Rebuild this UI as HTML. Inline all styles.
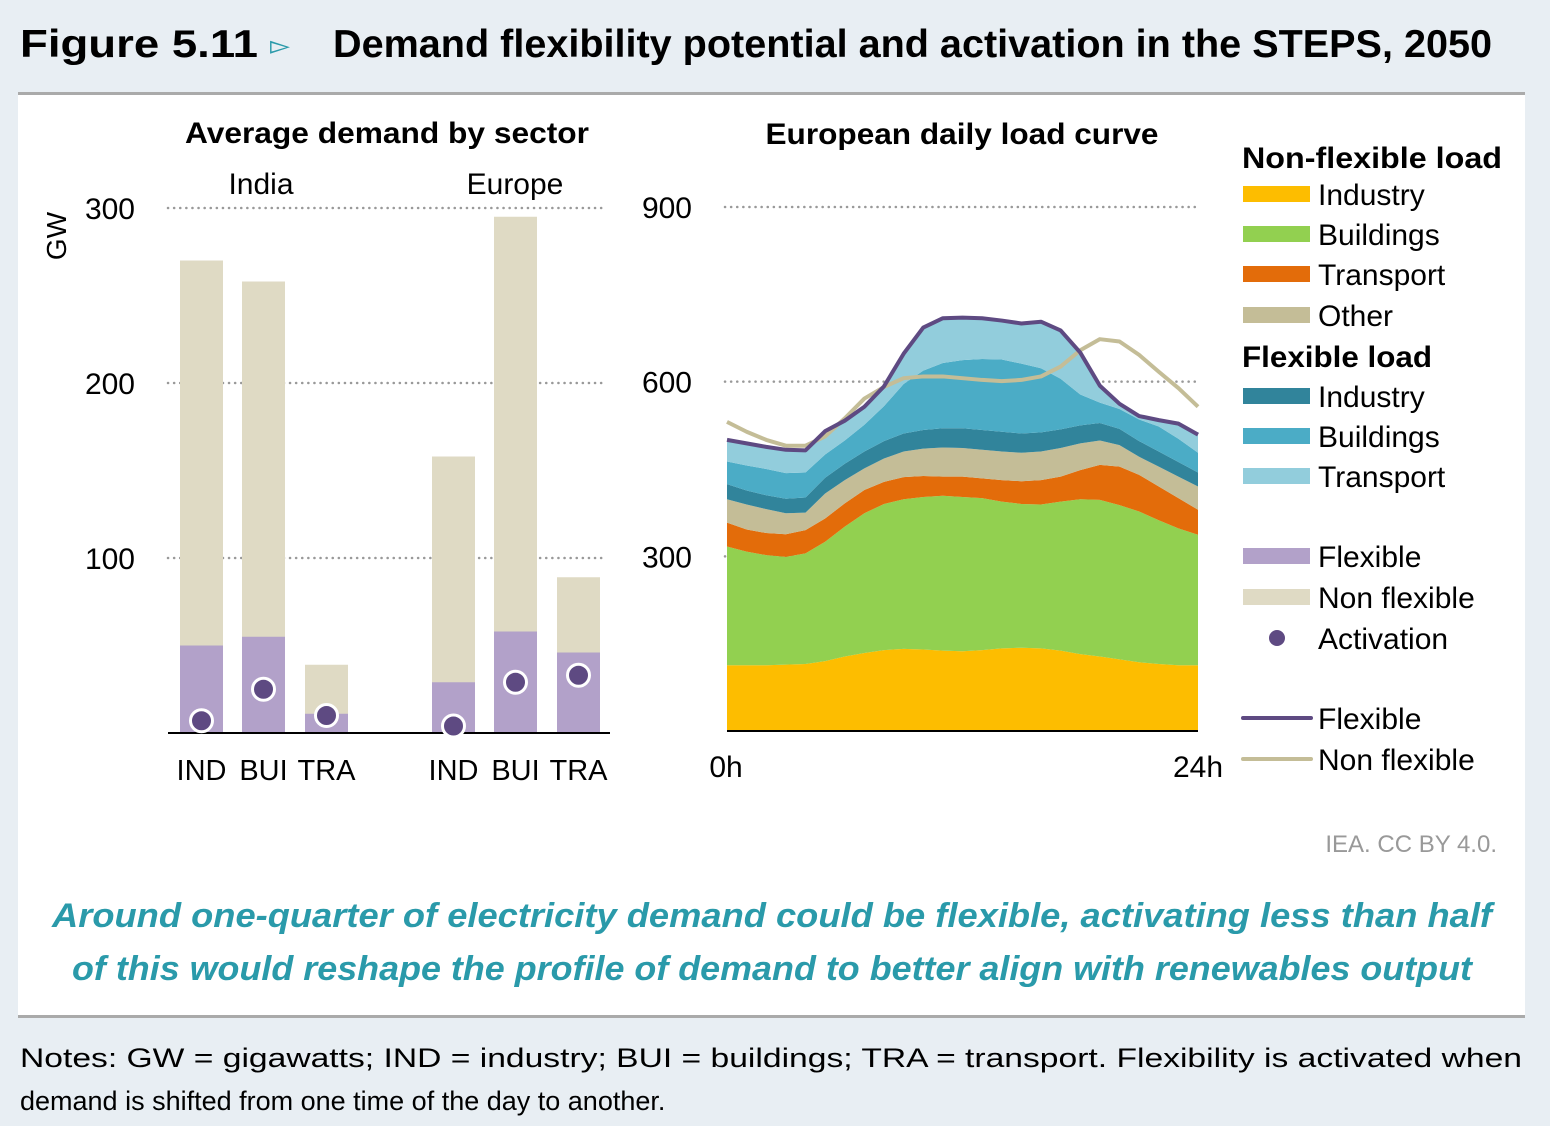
<!DOCTYPE html>
<html><head><meta charset="utf-8"><style>
body{margin:0;background:#e8eef3;}
svg{display:block;font-family:"Liberation Sans",sans-serif;}
</style></head><body>
<svg id="fig" width="1550" height="1126" viewBox="0 0 1550 1126">
<rect x="0" y="0" width="1550" height="1126" fill="#e8eef3"/>
<text x="20" y="57" font-size="39" font-weight="bold" textLength="238" lengthAdjust="spacingAndGlyphs">Figure 5.11</text>
<text x="270" y="54" font-size="26" fill="#2a9aaa">▻</text>
<text x="333" y="57" font-size="39" font-weight="bold" textLength="1159" lengthAdjust="spacingAndGlyphs">Demand flexibility potential and activation in the STEPS, 2050</text>
<rect x="18" y="95" width="1507" height="921" fill="#fff"/>
<rect x="18" y="92" width="1507" height="3" fill="#aaa"/>
<rect x="18" y="1015" width="1507" height="3" fill="#aaa"/>

<text x="387" y="143" font-size="30" font-weight="bold" text-anchor="middle" textLength="404" lengthAdjust="spacingAndGlyphs">Average demand by sector</text>
<text x="962" y="144" font-size="30" font-weight="bold" text-anchor="middle" textLength="393" lengthAdjust="spacingAndGlyphs">European daily load curve</text>
<text x="261" y="194" font-size="30" text-anchor="middle">India</text>
<text x="515" y="194" font-size="30" text-anchor="middle">Europe</text>
<text transform="translate(66,236) rotate(-90)" font-size="28" text-anchor="middle">GW</text>

<g id="left"></g>
<g id="right"></g>
<g id="legend"></g>

<text x="1497" y="852" font-size="24" fill="#999" text-anchor="end">IEA. CC BY 4.0.</text>
<text x="772" y="927" font-size="34" font-weight="bold" font-style="italic" fill="#2a9aaa" text-anchor="middle" textLength="1440" lengthAdjust="spacingAndGlyphs">Around one-quarter of electricity demand could be flexible, activating less than half</text>
<text x="772" y="980" font-size="34" font-weight="bold" font-style="italic" fill="#2a9aaa" text-anchor="middle" textLength="1400" lengthAdjust="spacingAndGlyphs">of this would reshape the profile of demand to better align with renewables output</text>
<text x="20" y="1067" font-size="27" textLength="1502" lengthAdjust="spacingAndGlyphs">Notes: GW = gigawatts; IND = industry; BUI = buildings; TRA = transport. Flexibility is activated when</text>
<text x="20" y="1110" font-size="27">demand is shifted from one time of the day to another.</text>
</svg>
<script>
const NS="http://www.w3.org/2000/svg";
function mk(parent,tag,attrs,text){const e=document.createElementNS(NS,tag);for(const k in attrs)e.setAttribute(k,attrs[k]);if(text!==undefined)e.textContent=text;parent.appendChild(e);return e;}

// ---------- Bar chart data ----------
const barCategories=["IND","BUI","TRA","IND","BUI","TRA"];
const barRegions=["India","India","India","Europe","Europe","Europe"];
const barTotal=[270,258,39,158,295,89];
const barFlexible=[50,55,11,29,58,46];
const barActivation=[7,25,10,4,29,33];
const leftTicks=[100,200,300];

// ---------- Area chart data (GW, hourly 0h..24h) ----------
const hours=[0,1,2,3,4,5,6,7,8,9,10,11,12,13,14,15,16,17,18,19,20,21,22,23,24];
const nfIndustry=[113,113,113,114,115,120,128,134,139,141,140,138,137,139,142,143,142,138,132,128,123,118,115,113,113];
const nfBuildings=[204,195,189,185,190,205,223,240,251,257,262,266,265,261,252,247,247,256,266,269,265,259,247,235,224];
const nfTransport=[41,38,38,39,40,40,40,40,38,38,36,33,35,34,37,39,42,43,50,60,66,63,58,52,43];
const nfOther=[40,43,41,36,30,43,40,37,40,44,47,50,49,49,49,49,49,49,46,42,37,31,34,37,40];
const flIndustry=[26,24,24,25,26,27,28,29,30,31,32,33,34,34,34,33,33,32,31,30,28,27,26,25,24];
const flBuildings=[39,43,45,44,43,40,40,46,60,85,102,112,117,122,124,120,110,87,53,35,34,37,43,40,34];
const flTransport=[37,38,38,40,38,40,34,31,34,52,74,77,73,70,67,69,80,83,72,29,9,6,11,26,31];
const nonFlexLine=[531,514,500,490,490,506,537,571,591,606,609,609,606,603,601,603,609,626,654,673,669,646,617,589,557];
const rightTicks=[300,600,900];

// ---------- Left chart ----------
const L=document.getElementById('left');
const ly=v=>733-v*1.75;
const barX=[180,242,305,432,494,557], bw=43;
leftTicks.forEach(t=>{
  const g=mk(L,'line',{x1:168,x2:607,y1:ly(t),y2:ly(t),stroke:'#999','stroke-width':2.5,'stroke-dasharray':'0.1 6','stroke-linecap':'round'});
  
  
  const tx=mk(L,'text',{x:135,y:ly(t)+11,'font-size':30,'text-anchor':'end'},String(t));
  
  
});
barTotal.forEach((v,i)=>{
  const r=mk(L,'rect',{x:barX[i],y:ly(v),width:bw,height:ly(0)-ly(v),fill:'#dfdac4'});
  
  
  const f=mk(L,'rect',{x:barX[i],y:ly(barFlexible[i]),width:bw,height:ly(0)-ly(barFlexible[i]),fill:'#b2a1c9'});
  
  
});
const ax=mk(L,'line',{x1:168,x2:610,y1:733,y2:733,stroke:'#000','stroke-width':2});


barActivation.forEach((v,i)=>{
  const c=mk(L,'circle',{cx:barX[i]+bw/2,cy:ly(v),r:11,fill:'#5e4a82',stroke:'#fff','stroke-width':3});
  
  
});
barCategories.forEach((c,i)=>{
  const t=mk(L,'text',{x:barX[i]+bw/2,y:780,'font-size':29,'text-anchor':'middle'},c);
  
  
});

// ---------- Right chart ----------
const R=document.getElementById('right');
const rx=h=>727+h*(471/24);
const ry=v=>731-v*0.5822;
rightTicks.forEach(t=>{
  const tx=mk(R,'text',{x:692,y:ry(t)+11,'font-size':30,'text-anchor':'end'},String(t));
  
  
});
rightTicks.forEach(t=>{
  const g=mk(R,'line',{x1:725,x2:1198,y1:ry(t),y2:ry(t),stroke:'#999','stroke-width':2.5,'stroke-dasharray':'0.1 6','stroke-linecap':'round'});
  
  
});
const layers=[[nfIndustry,'#fdbd00','area-nonflex-industry'],[nfBuildings,'#92d050','area-nonflex-buildings'],[nfTransport,'#e36c0a','area-nonflex-transport'],[nfOther,'#c4bd97','area-nonflex-other'],[flIndustry,'#31849b','area-flex-industry'],[flBuildings,'#4bacc6','area-flex-buildings'],[flTransport,'#92cddc','area-flex-transport']];
let base=hours.map(()=>0);
layers.forEach(([arr,col,name])=>{
  const top=base.map((b,i)=>b+arr[i]);
  let d='M'+hours.map((h,i)=>rx(h)+','+ry(top[i])).join('L');
  for(let i=hours.length-1;i>=0;i--)d+='L'+rx(hours[i])+','+ry(base[i]);
  const p=mk(R,'path',{d:d+'Z',fill:col});
  
  
  base=top;
});
const nf=mk(R,'polyline',{points:hours.map((h,i)=>rx(h)+','+ry(nonFlexLine[i])).join(' '),fill:'none',stroke:'#c4bd97','stroke-width':4,'stroke-linejoin':'round'});


const fl=mk(R,'polyline',{points:hours.map((h,i)=>rx(h)+','+ry(base[i])).join(' '),fill:'none',stroke:'#5e4a82','stroke-width':4,'stroke-linejoin':'round'});


const bx=mk(R,'line',{x1:727,x2:1198,y1:731,y2:731,stroke:'#000','stroke-width':2});


const t0=mk(R,'text',{x:726,y:777,'font-size':30,'text-anchor':'middle'},'0h');


const t24=mk(R,'text',{x:1198,y:777,'font-size':30,'text-anchor':'middle'},'24h');



// ---------- Legend ----------
const G=document.getElementById('legend');
const heads=[['Non-flexible load',168],['Flexible load',367]];
heads.forEach(([t,y])=>{
  const e=mk(G,'text',{x:1242,y:y,'font-size':30,'font-weight':'bold',textLength:t.length>14?260:190,lengthAdjust:'spacingAndGlyphs'},t);
  
  
});
const items=[['Industry',194,'#fdbd00','sw'],['Buildings',234,'#92d050','sw'],['Transport',274,'#e36c0a','sw'],['Other',315,'#c4bd97','sw'],['Industry',396,'#31849b','sw'],['Buildings',436,'#4bacc6','sw'],['Transport',476,'#92cddc','sw'],['Flexible',556,'#b2a1c9','sw'],['Non flexible',597,'#dfdac4','sw'],['Activation',638,'#5e4a82','dot'],['Flexible',718,'#5e4a82','ln'],['Non flexible',759,'#c4bd97','ln']];
items.forEach(([t,y,c,k],i)=>{
  let s;
  if(k==='sw')s=mk(G,'rect',{x:1243,y:y-8,width:67,height:16,fill:c});
  else if(k==='dot')s=mk(G,'circle',{cx:1277,cy:y,r:8,fill:c});
  else s=mk(G,'line',{x1:1243,x2:1311,y1:y,y2:y,stroke:c,'stroke-width':4,'stroke-linecap':'round'});
  
  
  const e=mk(G,'text',{x:1318,y:y+11,'font-size':30},t);
  
  
});
</script>
</body></html>
